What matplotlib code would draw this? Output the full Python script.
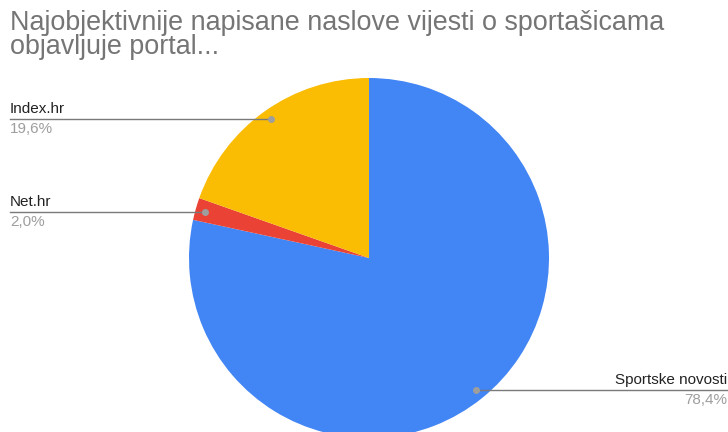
import numpy as np
import matplotlib
matplotlib.use("Agg")
import matplotlib.pyplot as plt

labels = ["Sportske novosti", "Net.hr", "Index.hr"]
values = [78.4, 2.0, 19.6]
pct_labels = ["78,4%", "2,0%", "19,6%"]
colors = ["#4285F4", "#EA4335", "#FBBC04"]
title_lines = ["Najobjektivnije napisane naslove vijesti o sportašicama", "objavljuje portal..."]

W, H = 728, 432
plt.rcParams["font.family"] = ["Liberation Sans", "DejaVu Sans"]
fig = plt.figure(figsize=(W / 100, H / 100), dpi=100)
ax = fig.add_axes([0, 0, 1, 1])

cx, cy, R = 369, H - 258, 180
wedges, _ = ax.pie(values, colors=colors, startangle=90, counterclock=False,
                   center=(cx, cy), radius=R, frame=True,
                   wedgeprops=dict(linewidth=0))
ax.set_xlim(0, W)
ax.set_ylim(0, H)
ax.set_aspect("equal")
ax.axis("off")

for i, line in enumerate(title_lines):
    fig.text(10 / W, 1 - (30 + 24 * i) / H, line, fontsize=19.4, color="#757575",
             ha="left", va="baseline")

for w, lab, pct in zip(wedges, labels, pct_labels):
    ang = np.deg2rad((w.theta1 + w.theta2) / 2)
    px = cx + 0.945 * R * np.cos(ang)
    py = cy + 0.945 * R * np.sin(ang)
    if np.cos(ang) < 0:
        x0, ha = 10, "left"
    else:
        x0, ha = 727, "right"
    ax.plot([x0, px], [py, py], color="#7a7a7a", lw=1.0, zorder=5)
    ax.text(x0, py + 3, lab, ha=ha, va="bottom", fontsize=11, color="#222222")
    ax.text(x0, py - 3, pct, ha=ha, va="top", fontsize=11, color="#9e9e9e")
    ax.plot([px], [py], "o", color="#9e9e9e", ms=4, zorder=6)

fig.savefig("out.png", dpi=100, facecolor="white")
